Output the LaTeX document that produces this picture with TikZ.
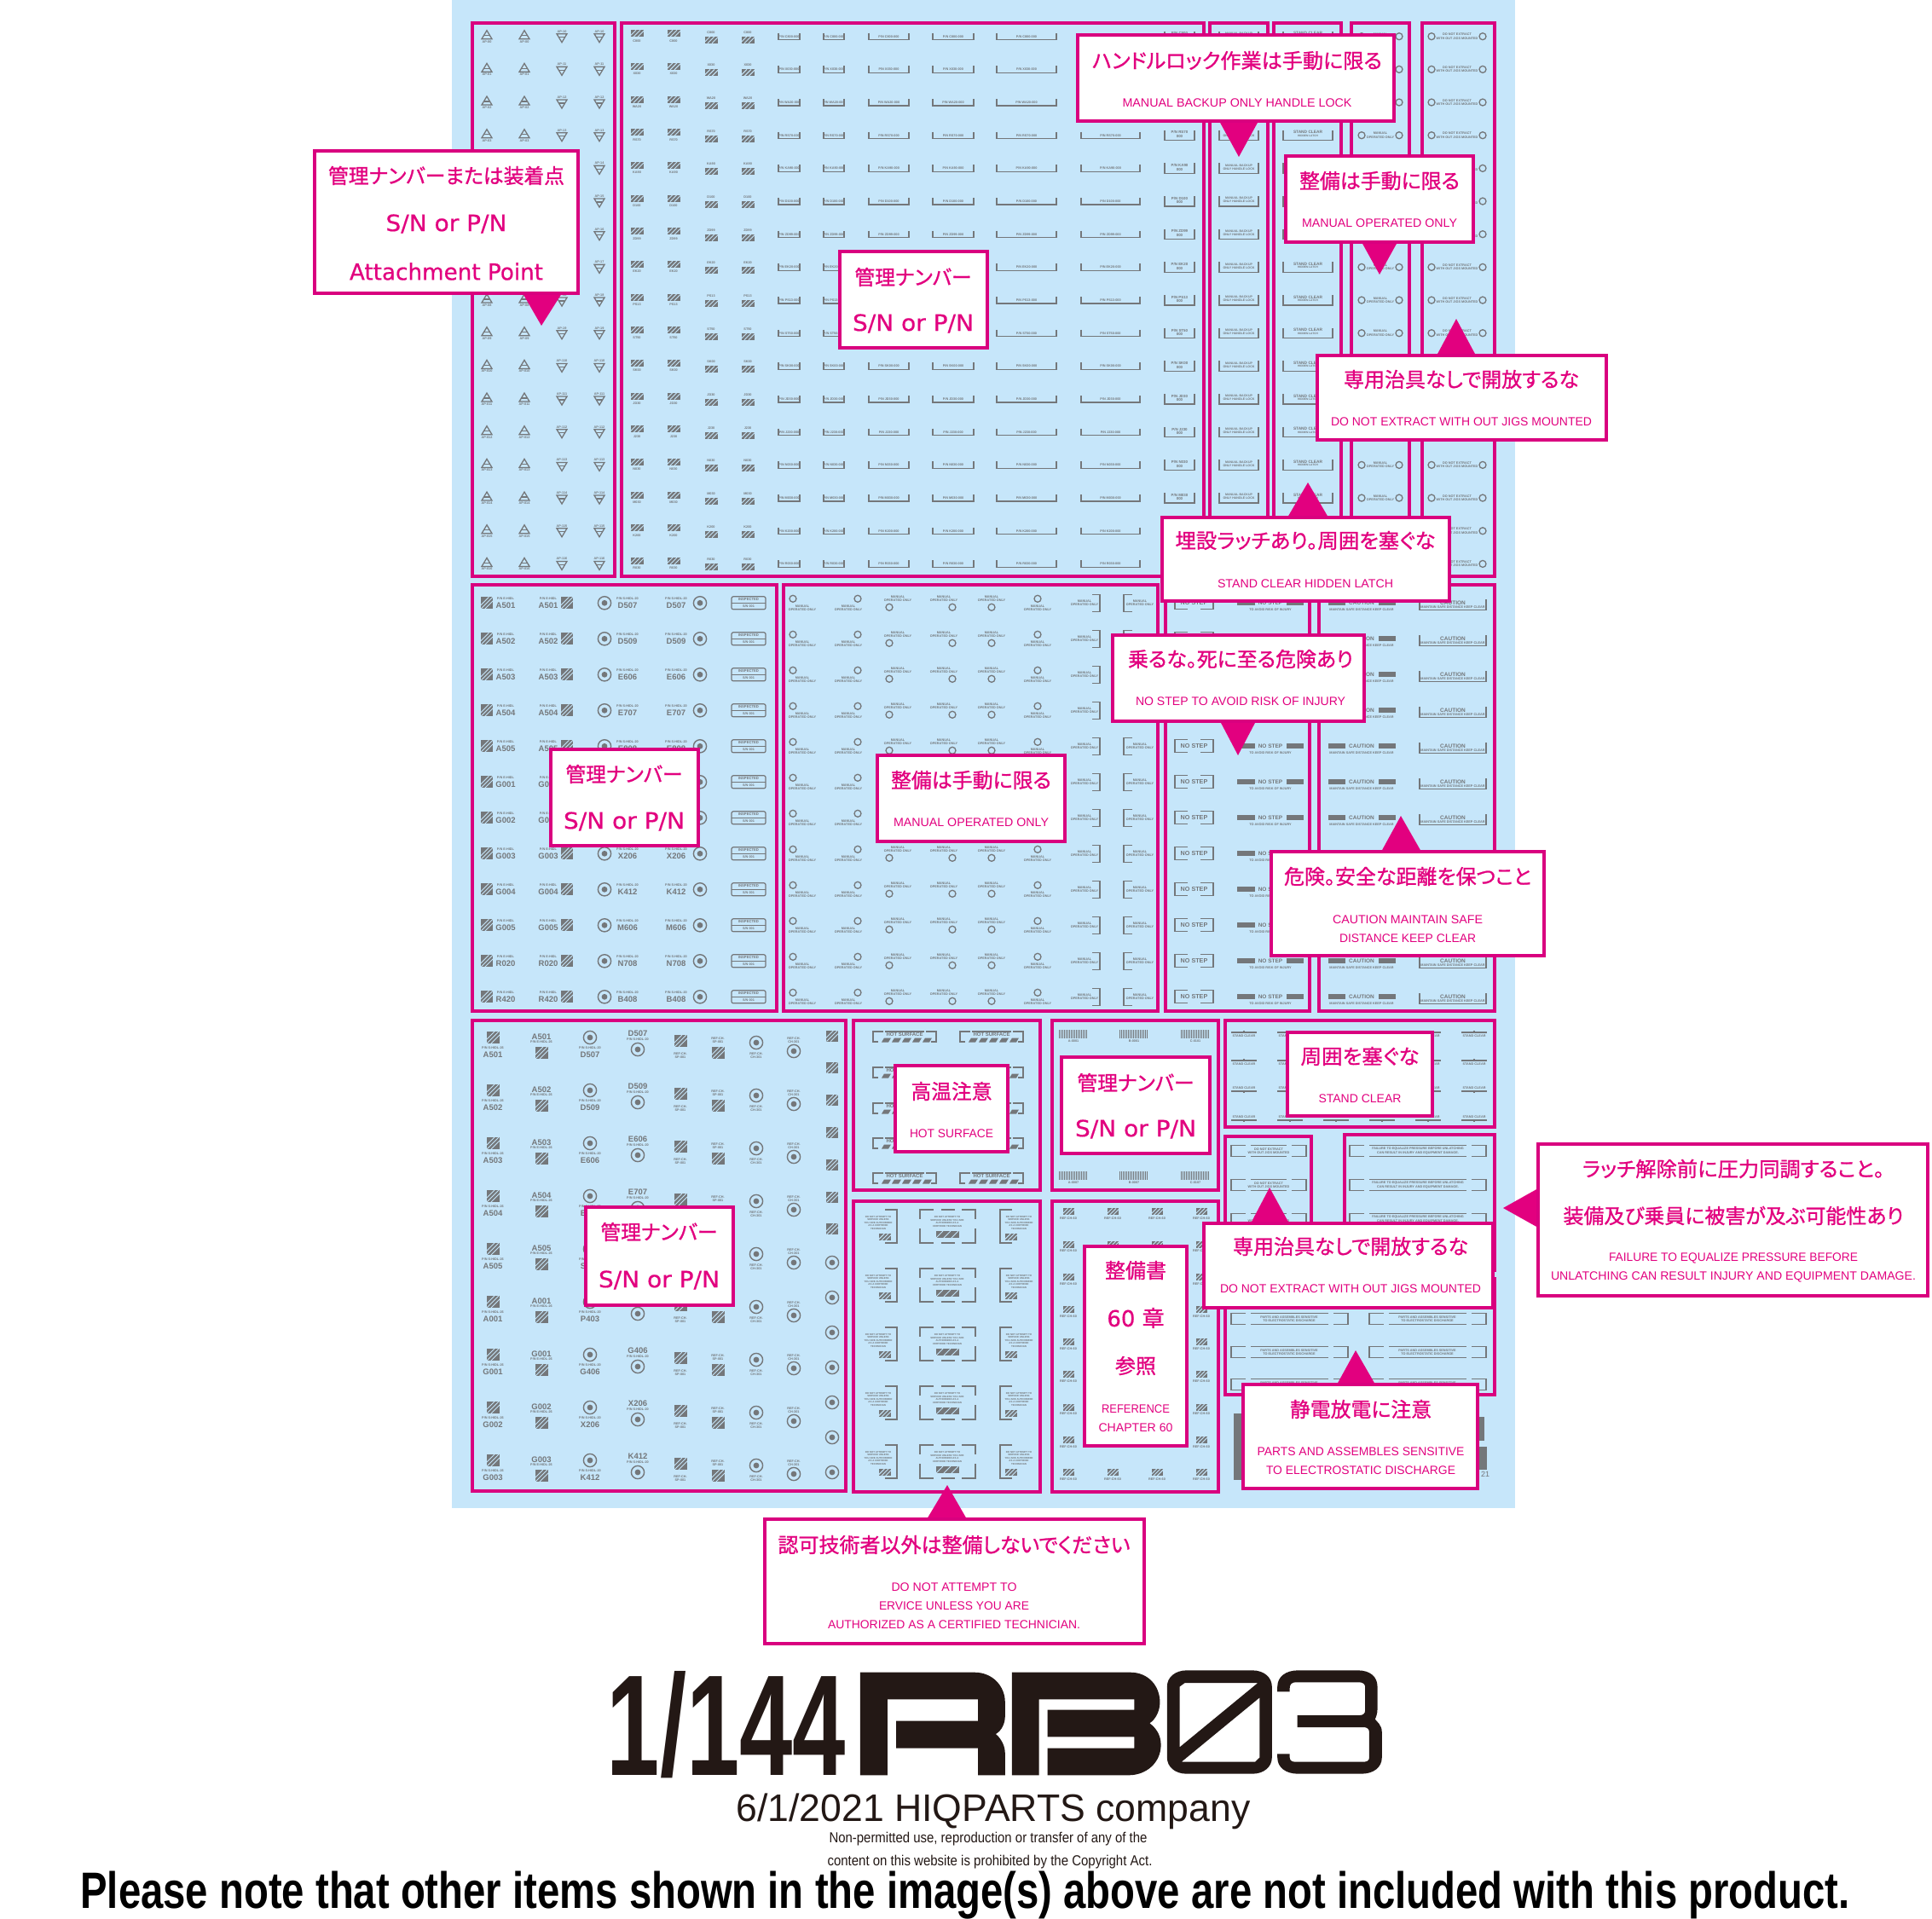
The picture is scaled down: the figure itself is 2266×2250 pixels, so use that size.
\documentclass[tikz,border=0pt]{standalone}
\usepackage{fontspec}
\usepackage{graphicx}
\setmainfont{Liberation Sans}
\newfontfamily\jpfont[FakeBold=1.0,RawFeature=+palt]{Noto Sans CJK JP}
\newfontfamily\latnfont[FakeBold=0.5]{DejaVu Sans}
\definecolor{bgc}{HTML}{C6E6FA}
\definecolor{dg}{HTML}{74777A}
\definecolor{cm}{HTML}{E2007F}
\definecolor{pm}{HTML}{D9007F}
\definecolor{ink}{HTML}{231815}
\tikzset{
 panelbox/.style={draw=pm,line width=4pt},
 callst/.style={draw=pm,fill=white,line width=4.6pt,inner sep=0pt},
 tri/.style={fill=cm},
 dl/.style={draw=dg,line width=1.2pt},
 tn/.style={inner sep=0pt,text=dg,align=center,font=\fontsize{3.8}{4.3}\selectfont\bfseries},
 tb/.style={inner sep=0pt,text=dg,align=center,font=\fontsize{9.5}{9.5}\selectfont\bfseries},
 tm/.style={inner sep=0pt,text=dg,align=center,font=\fontsize{6.5}{7}\selectfont\bfseries},
 tx/.style={inner sep=0pt,text=cm}
}
\newcommand\JP[4]{\node[tx,yshift=-1pt] at (#1,#2) {\resizebox{#3pt}{\height}{\fontsize{24}{24}\selectfont\jpfont #4}};}
\newcommand\SM[4]{\node[tx,yshift=-.5pt] at (#1,#2) {\resizebox{#3pt}{\height}{\fontsize{14}{14}\selectfont #4}};}
\newcommand\BG[4]{\node[tx,yshift=-.5pt] at (#1,#2) {\resizebox{#3pt}{\height}{\fontsize{26.5}{27}\selectfont\latnfont #4}};}
\newcommand\CB[5]{\node[callst,minimum width={(#4-#2)*1pt},minimum height={(#5-#3)*1pt}] (#1) at ({(#2+#4)/2},{(#3+#5)/2}) {};}
\newcommand\hatch[4]{%
 \fill[dg] ({#1-#3/2},{#2-#4/2}) rectangle ({#1+#3/2},{#2+#4/2});
 \draw[bgc,line width=.9pt] ({#1-#3/3-#4/2},{#2+#4/2})--({#1-#3/3+#4/2},{#2-#4/2})
   ({#1-#4/2},{#2+#4/2})--({#1+#4/2},{#2-#4/2})
   ({#1+#3/3-#4/2},{#2+#4/2})--({#1+#3/3+#4/2},{#2-#4/2});}
\newcommand\ring[2]{\draw[dg,line width=1.3pt] (#1,#2) circle (4);}
\newcommand\bull[2]{\draw[dg,line width=1.4pt] (#1,#2) circle (7.6);\fill[dg] (#1,#2) circle (3.4);}
\newcommand\ub[4]{\draw[dl] (#1,{#3-#4/2})--(#1,{#3+#4/2})--(#2,{#3+#4/2})--(#2,{#3-#4/2});}
\newcommand\bxs[3]{%
 \draw[dl] ({#1+17},{#3-6.5})--(#1,{#3-6.5})--(#1,{#3+6.5})--({#1+17},{#3+6.5});
 \draw[dl] ({#2-17},{#3-6.5})--(#2,{#3-6.5})--(#2,{#3+6.5})--({#2-17},{#3+6.5});
 \draw[dl] ({#1+23},{#3-6.5})--({#2-23},{#3-6.5}) ({#1+23},{#3+6.5})--({#2-23},{#3+6.5});}
\newcommand\hotsf[2]{%
 \draw[dg,line width=2.2pt] ({#1+12},{#2-6})--(#1,{#2-6})--(#1,{#2+6})--({#1+6},{#2+6});
 \draw[dg,line width=2.2pt] ({#1+62},{#2-6})--({#1+74},{#2-6})--({#1+74},{#2+6})--({#1+68},{#2+6});
 \draw[dg,line width=2.2pt] ({#1+14},{#2-6})--({#1+60},{#2-6});
 \foreach \q in {10,22,34,46,58}{\fill[dg] ({#1+\q},{#2+6.5})--({#1+\q+8},{#2+6.5})--({#1+\q+11},{#2+1.5})--({#1+\q+3},{#2+1.5})--cycle;}
 \node[tm,font=\fontsize{6}{6}\selectfont\bfseries] at ({#1+37},{#2-2.5}) {HOT SURFACE};}
\newcommand\barc[3]{%
 \foreach \q/\r in {0/.8,2.2/.5,4/1,6.4/.5,8/.5,9.8/1.1,12.2/.5,14/.8,16.4/.5,18/1.1,20.4/.5,22/.5,24/1,26.4/.5,28/.8,30.4/.5,32/1.1}{\fill[dg] ({#1+\q},#2) rectangle ({#1+\q+\r},{#2+9.5});}
 \node[tn] at ({#1+17},{#2+13}) {#3};}
\begin{document}
\begin{tikzpicture}[x=1pt,y=-1pt]
\useasboundingbox (0,0) rectangle (2266,2250);
\fill[white] (0,0) rectangle (2266,2250);
\fill[bgc] (530,0) rectangle (1777,1769);

\foreach \i/\a in {0/C800,1/X030,2/WA20,3/RS70,4/KA90,5/D100,6/ZD99,7/EK20,8/PS13,9/ST50,10/SK00,11/JD30,12/J230,13/N030,14/M030,15/K200,16/R030}{
 \pgfmathsetmacro\y{42.7+38.67*\i}
 \foreach \x in {571,615}{
  \draw[dl,line width=1.3pt] (\x-6,\y+3)--(\x,\y-7)--(\x+6,\y+3)--cycle;
  \draw[dl] (\x-3,\y-1)--(\x+3,\y-1);
  \node[tn] at (\x,\y+6) {AP-0\i};}
 \foreach \x in {659,703}{
  \draw[dl,line width=1.3pt] (\x-6,\y-3)--(\x,\y+7)--(\x+6,\y-3)--cycle;
  \draw[dl] (\x-3,\y+1)--(\x+3,\y+1);
  \node[tn] at (\x,\y-6) {AP-1\i};}
 \foreach \x in {747,790}{\hatch{\x}{\y-3.5}{15}{8}\node[tn] at (\x,\y+5) {\a};}
 \foreach \x in {834,877}{\node[tn] at (\x,\y-5) {\a};\hatch{\x}{\y+4}{15}{8}}
 \foreach \p/\q in {913/938,966/990,1019/1066,1094/1142,1169/1239,1268/1337}{
  \ub{\p}{\q}{\y}{8}\node[tn] at ({(\p+\q)/2},\y) {P/N \a-000};}
 \ub{1366}{1401}{\y}{12}\node[tn,font=\fontsize{4.4}{4.6}\selectfont\bfseries] at (1383.5,\y-1) {P/N \a\\000};
 \ub{1430}{1476}{\y}{12}\node[tn,font=\fontsize{3.6}{4}\selectfont\bfseries] at (1453,\y-1.5) {MANUAL BACKUP\\ONLY HANDLE LOCK};
 \ub{1505}{1563}{\y}{12}\node[tn,font=\fontsize{4.8}{4.4}\selectfont\bfseries] at (1534,\y-2) {STAND CLEAR\\[-1pt]\fontsize{3.2}{3.4}\selectfont HIDDEN LATCH};
 \ring{1597}{\y}\ring{1641}{\y}\node[tn] at (1619,\y) {MANUAL\\OPERATED ONLY};
 \ring{1679}{\y}\ring{1739}{\y}\node[tn] at (1709,\y) {DO NOT EXTRACT\\WITH OUT JIGS MOUNTED};
}

\foreach \i/\a/\b in {0/A501/D507,1/A502/D509,2/A503/E606,3/A504/E707,4/A505/E808,5/G001/F808,6/G002/P403,7/G003/X206,8/G004/K412,9/G005/M606,10/R020/N708,11/R420/B408}{
 \pgfmathsetmacro\y{707.3+42*\i}
 \hatch{571}{\y}{14}{14}\node[tn,font=\fontsize{3.8}{4}\selectfont\bfseries] at (593,\y-5) {P/N E-HIDL};\node[tb] at (593,\y+3) {\a};
 \hatch{665}{\y}{14}{14}\node[tn,font=\fontsize{3.8}{4}\selectfont\bfseries] at (643,\y-5) {P/N E-HIDL};\node[tb] at (643,\y+3) {\a};
 \bull{709}{\y}\node[tn,font=\fontsize{3.8}{4}\selectfont\bfseries] at (736,\y-5) {P/N S-HIDL-20};\node[tb] at (736,\y+3) {\b};
 \bull{821}{\y}\node[tn,font=\fontsize{3.8}{4}\selectfont\bfseries] at (793,\y-5) {P/N S-HIDL-20};\node[tb] at (793,\y+3) {\b};
 \draw[dl,rounded corners=2pt] (858,\y-7.5) rectangle (898,\y+7.5);\draw[dl] (858,\y) -- (898,\y);
 \node[tn,font=\fontsize{4.2}{4}\selectfont\bfseries] at (878,\y-3.8) {INSPECTED};\node[tn] at (878,\y+3.8) {S/N 001};
 \ring{930}{\y-5}\node[tn] at (941,\y+6) {MANUAL\\OPERATED ONLY};
 \ring{1006}{\y-5}\node[tn] at (995,\y+6) {MANUAL\\OPERATED ONLY};
 \node[tn] at (1053,\y-5) {MANUAL\\OPERATED ONLY};\ring{1043}{\y+5}
 \node[tn] at (1107,\y-5) {MANUAL\\OPERATED ONLY};\ring{1117}{\y+5}
 \node[tn] at (1163,\y-5) {MANUAL\\OPERATED ONLY};\ring{1163}{\y+5}
 \ring{1217}{\y-5}\node[tn] at (1217,\y+6) {MANUAL\\OPERATED ONLY};
 \node[tn] at (1272,\y) {MANUAL\\OPERATED ONLY};
 \draw[dl] (1281,\y-10)--(1290,\y-10)--(1290,\y+10)--(1281,\y+10);
 \draw[dl] (1328,\y-10)--(1318,\y-10)--(1318,\y+10)--(1328,\y+10);
 \node[tn] at (1337,\y) {MANUAL\\OPERATED ONLY};
 \draw[dl] (1393,\y-7.5)--(1378,\y-7.5)--(1378,\y+7.5)--(1393,\y+7.5);
 \draw[dl] (1408,\y-7.5)--(1423,\y-7.5)--(1423,\y+7.5)--(1408,\y+7.5);
 \node[tm,font=\fontsize{7.2}{7}\selectfont\bfseries] at (1400.5,\y) {NO STEP};
 \fill[dg] (1451,\y-3) rectangle (1472,\y+3);\fill[dg] (1509,\y-3) rectangle (1529,\y+3);
 \node[tm] at (1490,\y) {NO STEP};\node[tn] at (1490,\y+8) {TO AVOID RISK OF INJURY};
 \fill[dg] (1558,\y-3) rectangle (1578,\y+3);\fill[dg] (1617,\y-3) rectangle (1637,\y+3);
 \node[tm] at (1597,\y) {CAUTION};\node[tn] at (1597,\y+8) {MAINTAIN SAFE DISTANCE KEEP CLEAR};
 \ub{1665}{1743}{\y+2}{12}
 \node[tm] at (1704,\y) {CAUTION};\node[tn] at (1704,\y+4.5) {MAINTAIN SAFE DISTANCE KEEP CLEAR};
}

\foreach \i/\a/\b in {0/A501/D507,1/A502/D509,2/A503/E606,3/A504/E707,4/A505/S505,5/A001/P403,6/G001/G406,7/G002/X206,8/G003/K412}{
 \pgfmathsetmacro\y{1217+62*\i}
 \hatch{578}{\y}{15}{14}\node[tn] at (578,\y+12.5) {P/N S-HIDL-26};\node[tb] at (578,\y+20) {\a};
 \node[tb] at (635,\y-1) {\a};\node[tn] at (635,\y+5) {P/N E-HIDL-26};\hatch{635}{\y+18}{15}{14}
 \bull{692}{\y}\node[tn] at (692,\y+12.5) {P/N S-HIDL-20};\node[tb] at (692,\y+20) {\b};
 \node[tb] at (748,\y-4.5) {\b};\node[tn] at (748,\y+2) {P/N S-HIDL-20};\bull{748}{\y+14}
 \hatch{798}{\y+4}{15}{14}\node[tn] at (798,\y+21) {REF-CH.\\SP-001};
 \node[tn] at (842,\y+3) {REF-CH.\\SP-001};\hatch{842}{\y+18}{15}{14}
 \bull{887}{\y+6}\node[tn] at (887,\y+21) {REF-CH.\\CH-301};
 \node[tn] at (931,\y+3) {REF-CH.\\CH-301};\bull{931}{\y+16}
}
\foreach \i in {0,...,6}{\pgfmathsetmacro\y{1215+37.8*\i}\hatch{976}{\y}{14}{13}}
\foreach \i in {0,...,6}{\pgfmathsetmacro\y{1481+41*\i}\bull{976}{\y}}

\foreach \y in {1216,1258,1300,1341,1382}{\hotsf{1024}{\y}\hotsf{1126}{\y}}
\foreach \y/\s in {1208/1,1374/7}{\barc{1242}{\y}{A-000\s}\barc{1313}{\y}{B-000\s}\barc{1385}{\y}{C-010\s}}
\foreach \i in {0,...,4}{
 \pgfmathsetmacro\b{1419+69*\i}
 \draw[dl] (1038,\b)--(1052,\b)--(1052,\b+39)--(1038,\b+39);
 \node[tn,font=\fontsize{2.9}{3.5}\selectfont\bfseries] at (1030,\b+15) {DO NOT ATTEMPT TO\\SERVICE UNLESS\\YOU ARE AUTHORIZED\\AS A CERTIFIED\\TECHNICIAN};
 \hatch{1038}{\b+32}{14}{8}
 \draw[dl] (1095,\b)--(1079,\b)--(1079,\b+11) (1079,\b+22)--(1079,\b+39)--(1095,\b+39);
 \draw[dl] (1128,\b)--(1144,\b)--(1144,\b+11) (1144,\b+22)--(1144,\b+39)--(1128,\b+39);
 \draw[dl] (1104,\b)--(1120,\b) (1104,\b+39)--(1120,\b+39);
 \node[tn,font=\fontsize{2.9}{3.5}\selectfont\bfseries] at (1111,\b+14) {DO NOT ATTEMPT TO\\SERVICE UNLESS YOU ARE\\AUTHORIZED AS A\\CERTIFIED TECHNICIAN};
 \hatch{1111}{\b+29}{27}{8}
 \draw[dl] (1187,\b)--(1173,\b)--(1173,\b+39)--(1187,\b+39);
 \node[tn,font=\fontsize{2.9}{3.5}\selectfont\bfseries] at (1195,\b+15) {DO NOT ATTEMPT TO\\SERVICE UNLESS\\YOU ARE AUTHORIZED\\AS A CERTIFIED\\TECHNICIAN};
 \hatch{1186}{\b+32}{14}{8}
}
\foreach \i in {0,...,8}{
 \pgfmathsetmacro\y{1421.4+38.2*\i}
 \foreach \x in {1253,1305,1357,1409}{\hatch{\x}{\y}{13}{8}\node[tn] at (\x,\y+8) {REF-CH-60};}
}
\foreach \x in {1459,1513,1567,1621,1675,1729}{
 \foreach \y in {1211,1244}{\draw[dl] (\x-15,\y)--(\x+15,\y) (\x,\y-2)--(\x,\y);\node[tn] at (\x,\y+4) {STAND CLEAR};}
 \foreach \y in {1280,1314}{\draw[dl] (\x-15,\y)--(\x+15,\y) (\x,\y)--(\x,\y+2);\node[tn] at (\x,\y-4) {STAND CLEAR};}
}
\foreach \y in {1350,1390,1430}{
 \bxs{1444}{1532}{\y}\node[tn] at (1488,\y) {DO NOT EXTRACT\\WITH OUT JIGS MOUNTED};
 \bxs{1583}{1743}{\y}\node[tn] at (1663,\y) {FAILURE TO EQUALIZE PRESSURE BEFORE UNLATCHING\\CAN RESULT IN INJURY AND EQUIPMENT DAMAGE.};
}
\foreach \y in {1547,1586,1624}{
 \bxs{1444}{1581}{\y}\node[tn] at (1512,\y) {PARTS AND ASSEMBLES SENSITIVE\\TO ELECTROSTATIC DISCHARGE};
 \bxs{1606}{1743}{\y}\node[tn] at (1674,\y) {PARTS AND ASSEMBLES SENSITIVE\\TO ELECTROSTATIC DISCHARGE};
}
\fill[dg] (1447,1658) rectangle (1457,1736);
\fill[dg] (1730,1662) rectangle (1741,1690);
\fill[dg] (1730,1697) rectangle (1744,1724);
\node[tn,font=\fontsize{9}{9}\selectfont] at (1742,1729) {21};

\foreach \a/\b/\c/\d in {554/27/721/676,729/27/1412/676,1419/27/1487/676,1494/27/1573/676,1585/27/1653/676,1668/27/1753/676,
 554/686/911/1186,919/686/1358/1186,1367/686/1536/1186,1547/686/1753/1186,
 554/1197/992/1749,1001/1197/1220/1396,1234/1197/1429/1396,1001/1409/1220/1750,1234/1409/1429/1750,
 1437/1197/1753/1322,1437/1333/1538/1490,1577/1331/1753/1490,1437/1500/1753/1636}{
 \draw[panelbox] (\a,\b) rectangle (\c,\d);}

\fill[tri] (613,344)--(659,344)--(635,382)--cycle;
\CB{c1}{369}{177}{678}{344}
\JP{523.5}{205}{277}{管理ナンバーまたは装着点}
\BG{523.5}{262}{142}{S/N or P/N}
\BG{523.5}{318}{227}{Attachment Point}

\CB{c2}{985}{295}{1158}{408}
\JP{1071}{324}{137}{管理ナンバー}
\BG{1071}{379}{142}{S/N or P/N}

\fill[tri] (1430,142)--(1476,142)--(1453,184)--cycle;
\CB{c3}{1264}{41}{1635}{142}
\JP{1451}{70}{340}{ハンドルロック作業は手動に限る}
\SM{1451}{120}{269}{MANUAL BACKUP ONLY HANDLE LOCK}

\fill[tri] (1597,284)--(1639,284)--(1618,322)--cycle;
\CB{c4}{1508}{183}{1728}{284}
\JP{1618}{211}{188}{整備は手動に限る}
\SM{1618}{261}{182}{MANUAL OPERATED ONLY}

\fill[tri] (1685,417)--(1731,417)--(1708,374)--cycle;
\CB{c5}{1545}{417}{1884}{516}
\JP{1714}{444}{276}{専用治具なしで開放するな}
\SM{1714}{494}{306}{DO NOT EXTRACT WITH OUT JIGS MOUNTED}

\fill[tri] (1510,607)--(1558,607)--(1534,566)--cycle;
\CB{c6}{1363}{607}{1700}{705}
\JP{1531}{633}{305}{埋設ラッチあり。周囲を塞ぐな}
\SM{1531}{684}{206}{STAND CLEAR HIDDEN LATCH}

\fill[tri] (1431,846)--(1473,846)--(1452,886)--cycle;
\CB{c7}{1305}{745}{1600}{846}
\JP{1455}{772}{264}{乗るな。死に至る危険あり}
\SM{1455}{822}{246}{NO STEP TO AVOID RISK OF INJURY}

\CB{c8}{1029}{886}{1249}{987}
\JP{1139}{914}{188}{整備は手動に限る}
\SM{1139}{964}{182}{MANUAL OPERATED ONLY}

\CB{c9}{646}{879}{819}{992}
\JP{732}{907}{137}{管理ナンバー}
\BG{732}{963}{142}{S/N or P/N}

\fill[tri] (1620,999)--(1667,999)--(1643,957)--cycle;
\CB{c10}{1491}{999}{1811}{1121}
\JP{1651}{1027}{290}{危険。安全な距離を保つこと}
\SM{1651}{1078}{176}{CAUTION MAINTAIN SAFE}
\SM{1651}{1100}{160}{DISTANCE KEEP CLEAR}

\CB{c11}{1510}{1211}{1680}{1309}
\JP{1595}{1238}{139}{周囲を塞ぐな}
\SM{1595}{1288}{97}{STAND CLEAR}

\CB{c12}{1050}{1250}{1182}{1351}
\JP{1116}{1279}{95}{高温注意}
\SM{1116}{1329}{98}{HOT SURFACE}

\CB{c13}{1245}{1240}{1419}{1353}
\JP{1332}{1269}{137}{管理ナンバー}
\BG{1332}{1324}{142}{S/N or P/N}

\fill[tri] (1804,1394)--(1804,1440)--(1763,1417)--cycle;
\CB{c14}{1804}{1342}{2261}{1520}
\JP{2033}{1370}{354}{ラッチ解除前に圧力同調すること。}
\JP{2033}{1425}{399}{装備及び乗員に被害が及ぶ可能性あり}
\SM{2033}{1475}{292}{FAILURE TO EQUALIZE PRESSURE BEFORE}
\SM{2033}{1497}{428}{UNLATCHING CAN RESULT INJURY AND EQUIPMENT DAMAGE.}

\fill[tri] (1467,1435)--(1512,1435)--(1489,1393)--cycle;
\CB{c15}{1412}{1435}{1751}{1534}
\JP{1584}{1461}{276}{専用治具なしで開放するな}
\SM{1584}{1511}{306}{DO NOT EXTRACT WITH OUT JIGS MOUNTED}

\CB{c16}{1272}{1462}{1392}{1696}
\JP{1332}{1489}{72}{整備書}
\node[tx,yshift=-1pt] at (1332,1545) {\fontsize{26}{27}\selectfont\latnfont 60 \jpfont 章};
\JP{1332}{1601}{48}{参照}
\SM{1332}{1652}{80}{REFERENCE}
\SM{1332}{1674}{87}{CHAPTER 60}

\fill[tri] (1568,1624)--(1613,1624)--(1590,1584)--cycle;
\CB{c17}{1458}{1624}{1733}{1746}
\JP{1596}{1652}{166}{静電放電に注意}
\SM{1596}{1702}{243}{PARTS AND ASSEMBLES SENSITIVE}
\SM{1596}{1724}{222}{TO ELECTROSTATIC DISCHARGE}

\CB{c18}{687}{1416}{860}{1531}
\JP{773}{1444}{137}{管理ナンバー}
\BG{773}{1501}{142}{S/N or P/N}

\fill[tri] (1087,1782)--(1134,1782)--(1111,1742)--cycle;
\CB{c19}{897}{1782}{1342}{1928}
\JP{1119}{1811}{413}{認可技術者以外は整備しないでください}
\SM{1119}{1861}{147}{DO NOT ATTEMPT TO}
\SM{1119}{1883}{176}{ERVICE UNLESS YOU ARE}
\SM{1119}{1905}{296}{AUTHORIZED AS A CERTIFIED TECHNICIAN.}

\node[inner sep=0pt,text=ink] (ttl) at (852,2023) {\resizebox{280pt}{122pt}{\bfseries 1/144}};
\begin{scope}[shift={(1000,1950)},x=0.4018pt,y=-0.3333pt]
 \fill[ink] (22,35)--(355,35) .. controls (410,35) and (445,85) .. (445,140)--(445,190) .. controls (445,215) and (435,240) .. (418,252) .. controls (435,270) and (445,295) .. (445,320)--(445,397)--(366,397)--(366,302)--(127,302)--(127,206)--(366,206)--(366,130)--(102,130)--(102,397)--(22,397)--cycle;
 \fill[ink] (465,35)--(810,35) .. controls (865,35) and (897,85) .. (897,140) .. controls (897,170) and (885,200) .. (867,214) .. controls (885,230) and (900,255) .. (900,290) .. controls (900,350) and (860,397) .. (805,397)--(569,397)--(569,302)--(822,302)--(822,262)--(569,262)--(569,167)--(822,167)--(822,130)--(544,130)--(544,397)--(465,397)--cycle;
 \fill[ink,even odd rule] (975,28)--(1167,28) .. controls (1200,28) and (1224,52) .. (1224,85)--(1224,335) .. controls (1224,368) and (1200,392) .. (1167,392)--(975,392) .. controls (942,392) and (918,368) .. (918,335)--(918,85) .. controls (918,52) and (942,28) .. (975,28)--cycle
  (970,72)--(1183,72)--(955,298)--(955,85)--cycle
  (1188,124)--(1188,335)--(1175,350)--(960,350)--cycle;
 \fill[ink] (1240,103)--(1240,85) .. controls (1240,50) and (1265,28) .. (1300,28)--(1475,28) .. controls (1510,28) and (1532,50) .. (1532,85)--(1532,165) .. controls (1532,180) and (1528,192) .. (1525,200) .. controls (1530,208) and (1545,220) .. (1545,245)--(1545,335) .. controls (1545,370) and (1520,392) .. (1485,392)--(1300,392) .. controls (1265,392) and (1240,370) .. (1240,335)--(1240,322)--(1276,322)--(1276,335) .. controls (1276,345) and (1282,350) .. (1292,350)--(1492,350) .. controls (1502,350) and (1508,345) .. (1508,335)--(1508,245) .. controls (1508,235) and (1502,228) .. (1492,228)--(1298,228)--(1298,186)--(1480,186) .. controls (1490,186) and (1496,180) .. (1496,170)--(1496,85) .. controls (1496,78) and (1490,70) .. (1480,70)--(1292,70) .. controls (1282,70) and (1276,78) .. (1276,90)--(1276,103)--cycle;
\end{scope}
\node[inner sep=0pt,text=ink,anchor=base] (dt) at (1165,2136) {\resizebox{603pt}{\height}{\fontsize{45}{45}\selectfont 6/1/2021 HIQPARTS company}};
\node[inner sep=0pt,text=ink,anchor=base] (n1) at (1159,2161) {\resizebox{373pt}{\height}{\fontsize{17}{17}\selectfont Non-permitted use, reproduction or transfer of any of the}};
\node[inner sep=0pt,text=ink,anchor=base] (n2) at (1161,2188) {\resizebox{381pt}{\height}{\fontsize{17}{17}\selectfont content on this website is prohibited by the Copyright Act.}};
\node[inner sep=0pt,text=black,anchor=base] (pn) at (1132,2238) {\resizebox{2075pt}{\height}{\fontsize{60}{60}\selectfont\bfseries Please note that other items shown in the image(s) above are not included with this product.}};
\end{tikzpicture}
\end{document}
